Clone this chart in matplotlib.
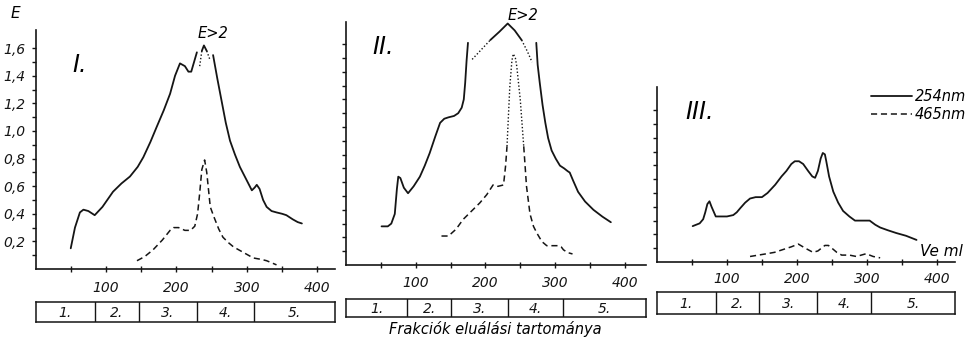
import matplotlib
matplotlib.use("Agg")
import matplotlib.pyplot as plt
from matplotlib.lines import Line2D

W, H = 968, 342
INK = "#151515"
plt.rcParams['font.family'] = ['DejaVu Sans']
plt.rcParams['font.style'] = 'italic'

# ---- panel I (elution volume ml, extinction E) ----
p1_uv_x = [50, 56, 63, 68, 75, 84, 95, 110, 122, 134, 145, 153, 163, 172, 182, 191, 198, 205, 212, 217, 221, 225, 229]
p1_uv_y = [0.15, 0.30, 0.41, 0.43, 0.42, 0.39, 0.45, 0.56, 0.62, 0.67, 0.74, 0.81, 0.92, 1.03, 1.15, 1.27, 1.40, 1.49, 1.47, 1.43, 1.43, 1.50, 1.57]
p1_top_x = [236, 239, 243]
p1_top_y = [1.58, 1.62, 1.58]
p1_leg_l_x = [233, 236]
p1_leg_l_y = [1.47, 1.58]
p1_leg_r_x = [243, 248]
p1_leg_r_y = [1.58, 1.51]
p1_uv2_x = [252, 258, 264, 270, 276, 283, 290, 298, 307, 311, 314, 318, 323, 328, 335, 342, 350, 356, 365, 372, 378]
p1_uv2_y = [1.55, 1.38, 1.22, 1.06, 0.93, 0.83, 0.74, 0.66, 0.57, 0.59, 0.61, 0.58, 0.50, 0.45, 0.42, 0.41, 0.40, 0.39, 0.36, 0.34, 0.33]
p1_vis_x = [144, 155, 167, 180, 191, 196, 203, 212, 220, 226, 230, 233, 236, 240, 243, 246, 248, 253, 260, 266, 274, 281, 295, 309, 320, 328, 342]
p1_vis_y = [0.06, 0.09, 0.14, 0.21, 0.28, 0.30, 0.30, 0.28, 0.28, 0.31, 0.40, 0.55, 0.72, 0.79, 0.70, 0.55, 0.45, 0.38, 0.29, 0.23, 0.19, 0.16, 0.12, 0.08, 0.07, 0.06, 0.03]

# ---- panel II ----
p2_uv_x = [51, 60, 65, 70, 73, 75, 78, 83, 89, 97, 106, 113, 120, 128, 135, 141, 147, 155, 161, 166, 169, 171, 173, 175]
p2_uv_y = [0.28, 0.28, 0.30, 0.37, 0.55, 0.64, 0.63, 0.56, 0.52, 0.57, 0.64, 0.72, 0.81, 0.93, 1.03, 1.06, 1.07, 1.08, 1.10, 1.14, 1.20, 1.32, 1.48, 1.61]
p2_dot_l_x = [181, 194, 207]
p2_dot_l_y = [1.49, 1.56, 1.63]
p2_top_x = [207, 220, 232, 242, 252]
p2_top_y = [1.63, 1.69, 1.75, 1.70, 1.63]
p2_dot_r_x = [252, 260, 267]
p2_dot_r_y = [1.63, 1.55, 1.47]
p2_uv2_x = [273, 275, 278, 282, 286, 290, 295, 301, 307, 313, 318, 321, 326, 333, 343, 355, 368, 380]
p2_uv2_y = [1.61, 1.45, 1.32, 1.16, 1.03, 0.92, 0.83, 0.77, 0.72, 0.70, 0.68, 0.67, 0.61, 0.53, 0.46, 0.40, 0.35, 0.31]
p2_vis_x = [137, 147, 158, 168, 180, 192, 202, 211, 218, 226, 229, 231]
p2_vis_y = [0.21, 0.21, 0.26, 0.33, 0.39, 0.45, 0.51, 0.58, 0.57, 0.58, 0.72, 0.86]
p2_vtop_x = [231, 235, 238, 240, 243, 245, 250, 255]
p2_vtop_y = [0.86, 1.29, 1.48, 1.53, 1.50, 1.44, 1.20, 0.86]
p2_vis2_x = [255, 259, 264, 269, 274, 281, 288, 296, 305, 309, 312, 318, 325]
p2_vis2_y = [0.86, 0.57, 0.37, 0.28, 0.23, 0.17, 0.14, 0.14, 0.14, 0.13, 0.11, 0.09, 0.08]

# ---- panel III ----
p3_uv_x = [51, 61, 66, 69, 72, 75, 78, 84, 92, 100, 109, 114, 119, 126, 133, 141, 150, 158, 169, 178, 185, 192, 197, 203, 209, 216, 222, 226, 230, 234, 237, 240, 242, 246, 252, 259, 266, 275, 283, 292, 304, 312, 319, 330, 342, 356, 371]
p3_uv_y = [0.26, 0.28, 0.31, 0.36, 0.42, 0.44, 0.40, 0.33, 0.33, 0.33, 0.34, 0.36, 0.39, 0.43, 0.46, 0.47, 0.47, 0.50, 0.56, 0.62, 0.66, 0.71, 0.73, 0.73, 0.71, 0.66, 0.62, 0.61, 0.66, 0.75, 0.79, 0.78, 0.73, 0.62, 0.51, 0.43, 0.37, 0.33, 0.30, 0.30, 0.30, 0.27, 0.25, 0.23, 0.21, 0.19, 0.16]
p3_vis_x = [133, 145, 157, 168, 180, 192, 202, 212, 223, 230, 235, 240, 245, 250, 257, 264, 275, 285, 292, 299, 304, 309, 319]
p3_vis_y = [0.04, 0.05, 0.06, 0.07, 0.09, 0.11, 0.13, 0.10, 0.07, 0.08, 0.10, 0.12, 0.12, 0.10, 0.07, 0.05, 0.05, 0.04, 0.05, 0.06, 0.05, 0.04, 0.03]

# fraction ranges (ml) under each panel
frac_labels = ["1.", "2.", "3.", "4.", "5."]
p1_frac_edges = [0, 84, 147, 229, 310, 425]
p2_frac_edges = [0, 88, 151, 232, 311, 430]
p3_frac_edges = [0, 84, 146, 229, 306, 426]

x_ticks = [50, 100, 150, 200, 250, 300, 350, 400]
x_tick_labels = ["", "100", "", "200", "", "300", "", "400"]
e_ticks = [0.1, 0.2, 0.3, 0.4, 0.5, 0.6, 0.7, 0.8, 0.9, 1.0, 1.1, 1.2, 1.3, 1.4, 1.5, 1.6]
e_tick_labels = ["", "0,2", "", "0,4", "", "0,6", "", "0,8", "", "1,0", "", "1,2", "", "1,4", "", "1,6"]

fig = plt.figure(figsize=(W / 100, H / 100), dpi=100)
fig.patch.set_facecolor("white")


def px_axes(left, top, right, bottom):
    return fig.add_axes([left / W, 1 - bottom / H, (right - left) / W, (bottom - top) / H])


def make_panel(left, right, top, bottom, xmax, ymax, nticks, show_labels, label_pad):
    ax = px_axes(left, top, right, bottom)
    ax.set_xlim(0, xmax)
    ax.set_ylim(0, ymax)
    ax.patch.set_alpha(0)
    for s in ["top", "right"]:
        ax.spines[s].set_visible(False)
    for s in ["left", "bottom"]:
        ax.spines[s].set_linewidth(1.2)
        ax.spines[s].set_color(INK)
    ax.set_xticks(x_ticks)
    ax.set_xticklabels(x_tick_labels, fontsize=10, style="italic")
    ax.set_yticks(e_ticks[:nticks])
    if show_labels:
        ax.set_yticklabels(e_tick_labels[:nticks], fontsize=10, style="italic")
    else:
        ax.set_yticklabels([])
    ax.tick_params(axis="x", direction="inout", length=4, width=1, pad=label_pad, colors=INK)
    ax.tick_params(axis="y", direction="out", length=3, width=1, pad=4, colors=INK)
    return ax


def make_strip(left, right, top, bottom, xmax, edges):
    ax = px_axes(left, top, right, bottom)
    ax.set_xlim(0, xmax)
    ax.set_ylim(0, 1)
    ax.set_xticks([])
    ax.set_yticks([])
    for s in ax.spines.values():
        s.set_linewidth(1.1)
        s.set_color(INK)
    for e in edges[1:-1]:
        ax.axvline(e, color=INK, lw=1.0)
    for i, lab in enumerate(frac_labels):
        ax.text((edges[i] + edges[i + 1]) / 2, 0.45, lab, ha="center", va="center",
                fontsize=10, style="italic", color=INK)
    return ax


solid = dict(color=INK, lw=1.3, solid_capstyle="round")
dashed = dict(color=INK, lw=1.1, linestyle=(0, (4, 2.5)))
dotted = dict(color=INK, lw=1.0, linestyle=(0, (1, 1.5)))

# panel I
ax1 = make_panel(35.5, 335, 30, 269, 425, 239 / 138, 16, True, 7)
ax1.plot(p1_uv_x, p1_uv_y, **solid)
ax1.plot(p1_top_x, p1_top_y, **solid)
ax1.plot(p1_leg_l_x, p1_leg_l_y, **dotted)
ax1.plot(p1_leg_r_x, p1_leg_r_y, **dotted)
ax1.plot(p1_uv2_x, p1_uv2_y, **solid)
ax1.plot(p1_vis_x, p1_vis_y, **dashed)
make_strip(35.5, 335, 302, 322, 425, p1_frac_edges)

# panel II
ax2 = make_panel(346, 645.7, 22, 265, 430, 243 / 138, 16, False, 6)
ax2.plot(p2_uv_x, p2_uv_y, **solid)
ax2.plot(p2_dot_l_x, p2_dot_l_y, **dotted)
ax2.plot(p2_top_x, p2_top_y, **solid)
ax2.plot(p2_dot_r_x, p2_dot_r_y, **dotted)
ax2.plot(p2_uv2_x, p2_uv2_y, **solid)
ax2.plot(p2_vis_x, p2_vis_y, **dashed)
ax2.plot(p2_vtop_x, p2_vtop_y, **dotted)
ax2.plot(p2_vis2_x, p2_vis2_y, **dashed)
make_strip(346, 645.7, 299, 317, 430, p2_frac_edges)

# panel III
ax3 = make_panel(657, 955, 87, 262, 426, 175 / 138, 11, False, 5)
ax3.plot(p3_uv_x, p3_uv_y, **solid)
ax3.plot(p3_vis_x, p3_vis_y, **dashed)
make_strip(657, 955, 292, 314, 426, p3_frac_edges)

# texts
fig.text(15 / W, 1 - 13 / H, "E", fontsize=11, style="italic", ha="center", va="center")
fig.text(80 / W, 1 - 65 / H, "I.", fontsize=17, style="italic", ha="center", va="center")
fig.text(213 / W, 1 - 33 / H, "E>2", fontsize=10.5, style="italic", ha="center", va="center")
fig.text(383 / W, 1 - 47 / H, "II.", fontsize=17, style="italic", ha="center", va="center")
fig.text(523 / W, 1 - 15 / H, "E>2", fontsize=10.5, style="italic", ha="center", va="center")
fig.text(700 / W, 1 - 112 / H, "III.", fontsize=17, style="italic", ha="center", va="center")
fig.text(941 / W, 1 - 252 / H, "Ve ml", fontsize=11, style="italic", ha="center", va="center")
fig.text(495 / W, 1 - 329 / H, "Frakciók eluálási tartománya", fontsize=10.5,
         style="italic", ha="center", va="center")

handles = [Line2D([], [], **solid), Line2D([], [], **dashed)]
fig.legend(handles, ["254nm", "465nm"], loc="upper right", bbox_to_anchor=(966 / W, 1 - 89 / H),
           frameon=False, handlelength=2.8, handletextpad=0.2, labelspacing=0.2, borderpad=0,
           borderaxespad=0, prop={"style": "italic", "size": 10.5})

fig.savefig("out.png", dpi=100, facecolor="white")
